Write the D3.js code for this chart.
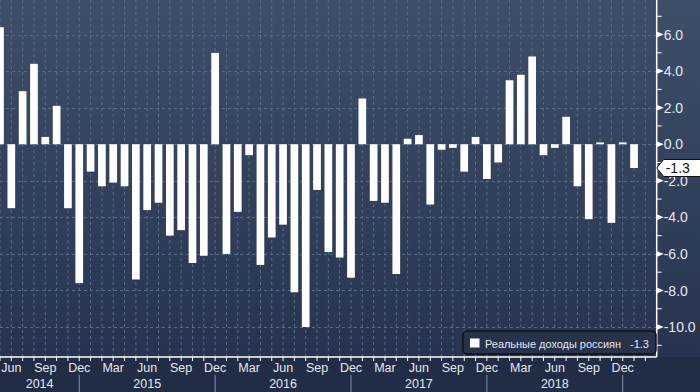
<!DOCTYPE html>
<html><head><meta charset="utf-8">
<script src="https://cdn.jsdelivr.net/npm/d3@7"></script>
<style>html,body{margin:0;padding:0;background:#263250;}svg{display:block;}</style>
</head><body>
<svg id="c" width="700" height="392"></svg>
<script>
const months = ["2014-05","2014-06","2014-07","2014-08","2014-09","2014-10","2014-11","2014-12",
"2015-01","2015-02","2015-03","2015-04","2015-05","2015-06","2015-07","2015-08","2015-09","2015-10","2015-11","2015-12",
"2016-01","2016-02","2016-03","2016-04","2016-05","2016-06","2016-07","2016-08","2016-09","2016-10","2016-11","2016-12",
"2017-01","2017-02","2017-03","2017-04","2017-05","2017-06","2017-07","2017-08","2017-09","2017-10","2017-11","2017-12",
"2018-01","2018-02","2018-03","2018-04","2018-05","2018-06","2018-07","2018-08","2018-09","2018-10","2018-11","2018-12",
"2019-01"];
const values = [6.4,-3.5,2.9,4.4,0.4,2.1,-3.5,-7.6,
-1.5,-2.3,-2.1,-2.3,-7.4,-3.6,-3.2,-5.0,-4.7,-6.5,-6.1,5.0,
-6.0,-3.7,-0.6,-6.6,-5.1,-4.4,-8.1,-10.0,-2.5,-5.9,-6.2,-7.3,
2.5,-3.1,-3.2,-7.1,0.3,0.5,-3.3,-0.3,-0.2,-1.5,0.4,-1.9,
-1.0,3.5,3.8,4.8,-0.6,-0.2,1.5,-2.3,-4.1,0.1,-4.3,0.1,
-1.3];
const monthNames = ["Jan","Feb","Mar","Apr","May","Jun","Jul","Aug","Sep","Oct","Nov","Dec"];
const yMajorTicks = [6,4,2,0,-2,-4,-6,-8,-10];
const yMinorTicks = [7,5,3,1,-1,-3,-5,-7,-9,-11];
const seriesName = "Реальные доходы россиян";
const lastValue = -1.3;

const fmt = v => d3.format(".1f")(v).replace("−","-");
const W = 700, H = 392, axisX = 656.7, axisY = 357;
const svg = d3.select("#c");
const defs = svg.append("defs");
const g = defs.append("linearGradient").attr("id","bg").attr("x1",0).attr("y1",0).attr("x2",0).attr("y2",1);
g.append("stop").attr("offset","0%").attr("stop-color","#3e4e69");
g.append("stop").attr("offset","100%").attr("stop-color","#28344f");
svg.append("rect").attr("width",W).attr("height",axisY).attr("fill","url(#bg)");
svg.append("rect").attr("y",axisY).attr("width",W).attr("height",H-axisY).attr("fill","#212c45");

const x = d3.scaleLinear().domain([0, 58]).range([0, axisX]);
const y = d3.scaleLinear().domain([-11.64, 7.89]).range([axisY, 0]);
const bw = 7.7;

const gridC = "#566d8a";
svg.append("g").selectAll("line").data(d3.range(0, 58)).join("line")
  .attr("x1", d=>x(d)).attr("x2", d=>x(d)).attr("y1",0).attr("y2",axisY)
  .attr("stroke",gridC).attr("stroke-width",1).attr("stroke-dasharray","3,3");
svg.append("g").selectAll("line").data(yMajorTicks).join("line")
  .attr("x1",0).attr("x2",axisX).attr("y1",d=>Math.round(y(d))+0.5).attr("y2",d=>Math.round(y(d))+0.5)
  .attr("stroke",gridC).attr("stroke-width",1).attr("stroke-dasharray","3,3");

svg.append("g").selectAll("rect").data(values).join("rect")
  .attr("x",(d,i)=>x(i)-bw/2).attr("width",bw)
  .attr("y",d=>Math.min(y(d),y(0)))
  .attr("height",d=>Math.max(1.2, Math.abs(y(d)-y(0))))
  .attr("fill","#ffffff");

const txtC = "#e4e8ee";
const ra = svg.append("g");
ra.append("line").attr("x1",axisX).attr("x2",axisX).attr("y1",0).attr("y2",axisY).attr("stroke","#fff").attr("stroke-width",1.5);
ra.selectAll("line.mn").data(yMinorTicks).join("line").attr("class","mn")
  .attr("x1",axisX).attr("x2",axisX+5).attr("y1",d=>y(d)).attr("y2",d=>y(d)).attr("stroke","#fff").attr("stroke-width",1);
ra.selectAll("path.mj").data(yMajorTicks).join("path").attr("class","mj")
  .attr("d",d=>`M${axisX},${y(d)-3}L${axisX+7},${y(d)}L${axisX},${y(d)+3}Z`).attr("fill","#fff");
ra.selectAll("text").data(yMajorTicks).join("text")
  .attr("x",axisX+7).attr("y",d=>y(d)).attr("dy","0.36em")
  .attr("font-family","Liberation Sans, Arial, sans-serif").attr("font-size",14).attr("fill",txtC)
  .text(d=>fmt(d));

const ly = y(lastValue);
svg.append("path").attr("d",`M${axisX},${ly}L${axisX+7},${ly-8.5}L${W+2},${ly-8.5}L${W+2},${ly+8.5}L${axisX+7},${ly+8.5}Z`)
  .attr("fill","#fff").attr("stroke","#111").attr("stroke-width",1);
svg.append("text").attr("x",axisX+9).attr("y",ly).attr("dy","0.36em")
  .attr("font-family","Liberation Sans, Arial, sans-serif").attr("font-size",14).attr("fill","#111")
  .text(fmt(lastValue));

const ba = svg.append("g");
ba.append("line").attr("x1",0).attr("x2",axisX).attr("y1",axisY).attr("y2",axisY).attr("stroke","#fff").attr("stroke-width",1.5);
ba.selectAll("line.t").data(d3.range(0,58)).join("line").attr("class","t")
  .attr("x1",d=>x(d)).attr("x2",d=>x(d)).attr("y1",axisY).attr("y2",axisY+4).attr("stroke","#fff").attr("stroke-width",1);
const labeled = months.map((m,i)=>({m,i,mo:+m.slice(5,7)})).filter(d=>d.mo%3===0);
ba.selectAll("text.m").data(labeled).join("text").attr("class","m")
  .attr("x",d=>x(d.i)).attr("y",372).attr("text-anchor","middle")
  .attr("font-family","Liberation Sans, Arial, sans-serif").attr("font-size",12.5).attr("fill",txtC)
  .text(d=>monthNames[d.mo-1]);
const decs = months.map((m,i)=>({m,i})).filter(d=>d.m.endsWith("-12"));
ba.selectAll("line.sep").data(decs).join("line").attr("class","sep")
  .attr("x1",d=>x(d.i)).attr("x2",d=>x(d.i)).attr("y1",375).attr("y2",H)
  .attr("stroke","#8a93a5").attr("stroke-width",1);
const years = ["2014","2015","2016","2017","2018"];
const yearPos = years.map(yr=>{
  const idx = months.map((m,i)=>m.startsWith(yr)?i:null).filter(v=>v!==null);
  const a = Math.max(0, x(idx[0]-1)), b = x(idx[idx.length-1]);
  return {yr, cx:(a+b)/2};
});
ba.selectAll("text.y").data(yearPos).join("text").attr("class","y")
  .attr("x",d=>d.cx).attr("y",388).attr("text-anchor","middle")
  .attr("font-family","Liberation Sans, Arial, sans-serif").attr("font-size",12.5).attr("fill",txtC)
  .text(d=>d.yr);

const lg = svg.append("g");
lg.append("rect").attr("x",463).attr("y",331).attr("width",193).attr("height",23).attr("rx",4)
  .attr("fill","#27324b").attr("stroke","#0c111c").attr("stroke-width",1.5);
lg.append("rect").attr("x",470).attr("y",338.5).attr("width",9.5).attr("height",9).attr("fill","#fff");
lg.append("text").attr("x",485).attr("y",347.5)
  .attr("font-family","Liberation Sans, Arial, sans-serif").attr("font-size",11).attr("fill",txtC)
  .attr("textLength",136).attr("lengthAdjust","spacingAndGlyphs")
  .text(seriesName);
lg.append("text").attr("x",649).attr("y",347.5).attr("text-anchor","end")
  .attr("font-family","Liberation Sans, Arial, sans-serif").attr("font-size",11).attr("fill",txtC)
  .text(fmt(lastValue));
</script>
</body></html>
